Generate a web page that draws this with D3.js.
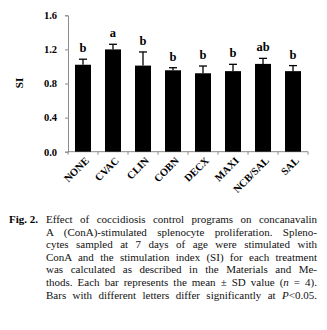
<!DOCTYPE html>
<html>
<head>
<meta charset="utf-8">
<script src="https://cdn.jsdelivr.net/npm/d3@7"></script>
<style>
  body { margin: 0; background: #fff; }
  svg { display: block; }
</style>
</head>
<body>
<script>
// data
let groups = ["NONE", "CVAC", "CLIN", "COBN", "DECX", "MAXI", "NCB/SAL", "SAL"];
let means = [1.02, 1.20, 1.01, 0.955, 0.92, 0.945, 1.03, 0.945];
let sds = [0.065, 0.06, 0.16, 0.03, 0.085, 0.08, 0.065, 0.065];
let letters = ["b", "a", "b", "b", "b", "b", "ab", "b"];
let yTicks = [0.0, 0.4, 0.8, 1.2, 1.6];

let captionLines = [
    [["Effect of coccidiosis control programs on concanavalin", "normal"]],
    [["A (ConA)-stimulated splenocyte proliferation. Spleno-", "normal"]],
    [["cytes sampled at 7 days of age were stimulated with", "normal"]],
    [["ConA and the stimulation index (SI) for each treatment", "normal"]],
    [["was calculated as described in the Materials and Me-", "normal"]],
    [["thods. Each bar represents the mean \u00b1 SD value (", "normal"], ["n", "italic"], [" = 4).", "normal"]],
    [["Bars with different letters differ significantly at ", "normal"], ["P", "italic"], ["<0.05.", "normal"]]
];

let width = 327, height = 330;
let serif = "'Liberation Serif', 'Times New Roman', serif";

let svg = d3.select("body").append("svg")
    .attr("width", width)
    .attr("height", height)
    .style("font-family", serif);

let x = d3.scaleBand()
    .domain(groups)
    .range([68, 308])
    .paddingInner(0.467)
    .paddingOuter(0.233);

let y = d3.scaleLinear()
    .domain([0, 1.6])
    .range([151.7, 15.3]);

// y axis
let yAxis = svg.append("g")
    .attr("transform", "translate(68,0)")
    .call(d3.axisLeft(y).tickValues(yTicks).tickFormat(d3.format(".1f")).tickSize(3).tickPadding(8));
yAxis.select(".domain").attr("stroke", "#8c8c8c");
yAxis.selectAll(".tick line").attr("stroke", "#8c8c8c");
yAxis.selectAll("text")
    .attr("fill", "#000")
    .style("font-family", serif)
    .style("font-weight", "bold")
    .style("font-size", "10.5px");

// x axis: ticks at band boundaries
let xAxis = svg.append("g").attr("transform", `translate(0,${y(0)})`);
xAxis.append("line")
    .attr("x1", 68).attr("x2", 308)
    .attr("stroke", "#8c8c8c");
let bounds = d3.range(groups.length + 1).map(i => 68 + i * x.step());
xAxis.selectAll(".btick")
    .data(bounds)
    .join("line")
    .attr("class", "btick")
    .attr("x1", d => d).attr("x2", d => d)
    .attr("y1", 0).attr("y2", 3)
    .attr("stroke", "#8c8c8c");

xAxis.selectAll(".xlab")
    .data(groups)
    .join("text")
    .attr("class", "xlab")
    .attr("transform", d => `translate(${x(d) + x.bandwidth() / 2 + 4},${7}) rotate(-45)`)
    .attr("text-anchor", "end")
    .attr("dy", "0.35em")
    .style("font-weight", "bold")
    .style("font-size", "10.5px")
    .text(d => d);

// y label
svg.append("text")
    .attr("transform", "translate(19,83) rotate(-90)")
    .attr("text-anchor", "middle")
    .attr("dy", "0.35em")
    .style("font-weight", "bold")
    .style("font-size", "11px")
    .text("SI");

// bars
svg.selectAll(".bar")
    .data(groups)
    .join("rect")
    .attr("class", "bar")
    .attr("x", d => x(d))
    .attr("width", x.bandwidth())
    .attr("y", (d, i) => y(means[i]))
    .attr("height", (d, i) => y(0) - y(means[i]))
    .attr("fill", "#000");

// error bars (upper half only)
let err = svg.selectAll(".err")
    .data(groups)
    .join("g")
    .attr("class", "err")
    .attr("stroke", "#000")
    .attr("stroke-width", 1.3);
err.append("line")
    .attr("x1", d => x(d) + x.bandwidth() / 2)
    .attr("x2", d => x(d) + x.bandwidth() / 2)
    .attr("y1", (d, i) => y(means[i]))
    .attr("y2", (d, i) => y(means[i] + sds[i]));
err.append("line")
    .attr("x1", d => x(d) + x.bandwidth() / 2 - 4)
    .attr("x2", d => x(d) + x.bandwidth() / 2 + 4)
    .attr("y1", (d, i) => y(means[i] + sds[i]))
    .attr("y2", (d, i) => y(means[i] + sds[i]));

// significance letters
svg.selectAll(".sig")
    .data(groups)
    .join("text")
    .attr("class", "sig")
    .attr("x", d => x(d) + x.bandwidth() / 2)
    .attr("y", (d, i) => y(means[i] + sds[i]) - 7)
    .attr("text-anchor", "middle")
    .style("font-weight", "bold")
    .style("font-size", "12.5px")
    .text((d, i) => letters[i]);

// caption
svg.append("text")
    .attr("x", 9)
    .attr("y", 223)
    .style("font-weight", "bold")
    .style("font-size", "11px")
    .text("Fig. 2.");

let lineW = 271;
captionLines.forEach((parts, i) => {
    let t = svg.append("text")
        .attr("x", 46)
        .attr("y", 223 + i * 12.6)
        .style("font-size", "11px")
        .attr("fill", "#111");
    parts.forEach(p => {
        t.append("tspan").style("font-style", p[1]).text(p[0]);
    });
    let natural = t.node().getComputedTextLength();
    let spaces = parts.map(p => p[0]).join("").split(" ").length - 1;
    if (spaces > 0) t.attr("word-spacing", (lineW - natural) / spaces);
});
</script>
</body>
</html>
